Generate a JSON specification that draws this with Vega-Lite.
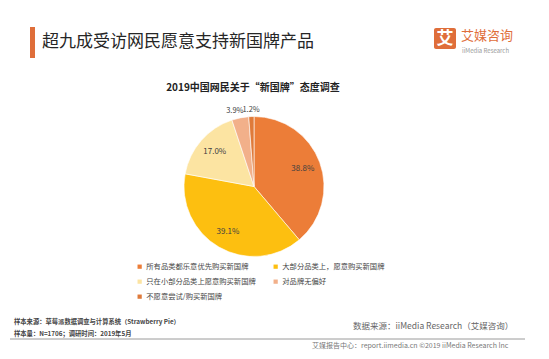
{
  "$schema": "https://vega.github.io/schema/vega-lite/v6.json",
  "autosize": {"type": "none"},
  "width": 508,
  "height": 345,
  "padding": {"left": 0, "top": 14, "right": 41, "bottom": 0},
  "background": "white",
  "config": {
    "view": {"stroke": null},
    "font": "Noto Sans CJK SC",
    "text": {"font": "Noto Sans CJK SC"}
  },
  "layer": [
    {
      "data": {"values": [
        {"order": 1, "category": "所有品类都乐意优先购买新国牌", "share": 0.388},
        {"order": 2, "category": "大部分品类上，愿意购买新国牌", "share": 0.391},
        {"order": 3, "category": "只在小部分品类上愿意购买新国牌", "share": 0.170},
        {"order": 4, "category": "对品牌无偏好", "share": 0.039},
        {"order": 5, "category": "不愿意尝试/购买新国牌", "share": 0.012}
      ]},
      "layer": [
        {
          "mark": {"type": "arc", "outerRadius": 70, "stroke": "white", "strokeWidth": 0.6},
          "encoding": {
            "theta": {"field": "share", "type": "quantitative", "stack": true},
            "order": {"field": "order", "type": "quantitative"},
            "color": {
              "field": "category",
              "type": "nominal",
              "scale": {
                "domain": ["所有品类都乐意优先购买新国牌", "只在小部分品类上愿意购买新国牌", "不愿意尝试/购买新国牌", "大部分品类上，愿意购买新国牌", "对品牌无偏好"],
                "range": ["#EC7D38", "#FCE4A2", "#DF7A3A", "#FDBF10", "#F2B08A"]
              },
              "legend": {
                "title": null,
                "orient": "none",
                "legendX": 136,
                "legendY": 249,
                "columns": 2,
                "columnPadding": 16,
                "rowPadding": 7,
                "symbolType": "square",
                "symbolSize": 18,
                "symbolStrokeWidth": 0,
                "labelFontSize": 7.3,
                "labelColor": "#444444",
                "labelOffset": 3,
                "labelFont": "Noto Sans CJK SC",
                "labelLimit": 200
              }
            }
          }
        },
        {
          "mark": {"type": "text", "radius": 52, "fontSize": 8, "color": "#404040"},
          "encoding": {
            "theta": {"field": "share", "type": "quantitative", "stack": true},
            "order": {"field": "order", "type": "quantitative"},
            "text": {"field": "share", "type": "quantitative", "format": ".1%"},
            "opacity": {"condition": {"test": "datum.share >= 0.1", "value": 1}, "value": 0}
          }
        },
        {
          "mark": {"type": "text", "radius": 77, "fontSize": 7.5, "color": "#404040", "dx": -4},
          "encoding": {
            "theta": {"field": "share", "type": "quantitative", "stack": true},
            "order": {"field": "order", "type": "quantitative"},
            "text": {"field": "share", "type": "quantitative", "format": ".1%"},
            "opacity": {"condition": {"test": "datum.order == 4", "value": 1}, "value": 0}
          }
        },
        {
          "mark": {"type": "text", "radius": 77, "fontSize": 7.5, "color": "#404040", "dx": 0},
          "encoding": {
            "theta": {"field": "share", "type": "quantitative", "stack": true},
            "order": {"field": "order", "type": "quantitative"},
            "text": {"field": "share", "type": "quantitative", "format": ".1%"},
            "opacity": {"condition": {"test": "datum.order == 5", "value": 1}, "value": 0}
          }
        }
      ]
    },
    {
      "data": {"values": [{}]},
      "layer": [
        {
          "mark": {"type": "rect", "color": "#DF6E3A"},
          "encoding": {"x": {"value": 30}, "x2": {"value": 35}, "y": {"value": 13}, "y2": {"value": 44}}
        },
        {
          "mark": {"type": "text", "align": "left", "baseline": "middle", "fontSize": 17, "color": "#262626"},
          "encoding": {"x": {"value": 42}, "y": {"value": 28}, "text": {"value": "超九成受访网民愿意支持新国牌产品"}}
        },
        {
          "mark": {"type": "rect", "color": "#DF6E3A", "cornerRadius": 2},
          "encoding": {"x": {"value": 434}, "x2": {"value": 456}, "y": {"value": 14}, "y2": {"value": 35}}
        },
        {
          "mark": {"type": "text", "align": "center", "baseline": "middle", "fontSize": 17, "fontWeight": "bold", "color": "white"},
          "encoding": {"x": {"value": 445}, "y": {"value": 24.5}, "text": {"value": "艾"}}
        },
        {
          "mark": {"type": "text", "align": "left", "baseline": "middle", "fontSize": 13, "color": "#DF6E3A"},
          "encoding": {"x": {"value": 461}, "y": {"value": 22}, "text": {"value": "艾媒咨询"}}
        },
        {
          "mark": {"type": "text", "align": "left", "baseline": "middle", "fontSize": 6, "color": "#999999"},
          "encoding": {"x": {"value": 462}, "y": {"value": 37}, "text": {"value": "iiMedia Research"}}
        },
        {
          "mark": {"type": "text", "align": "center", "baseline": "middle", "fontSize": 10, "fontWeight": "bold", "color": "#222222"},
          "encoding": {"x": {"value": 253}, "y": {"value": 74}, "text": {"value": "2019中国网民关于“新国牌”态度调查"}}
        },
        {
          "mark": {"type": "text", "align": "left", "baseline": "middle", "fontSize": 6.3, "fontWeight": "bold", "color": "#444444"},
          "encoding": {"x": {"value": 14}, "y": {"value": 308}, "text": {"value": "样本来源：草莓派数据调查与计算系统（Strawberry Pie）"}}
        },
        {
          "mark": {"type": "text", "align": "left", "baseline": "middle", "fontSize": 6.3, "fontWeight": "bold", "color": "#444444"},
          "encoding": {"x": {"value": 14}, "y": {"value": 320}, "text": {"value": "样本量：N=1706；调研时间：2019年5月"}}
        },
        {
          "mark": {"type": "text", "align": "left", "baseline": "middle", "fontSize": 8.5, "color": "#666666"},
          "encoding": {"x": {"value": 353}, "y": {"value": 312}, "text": {"value": "数据来源：iiMedia Research（艾媒咨询）"}}
        },
        {
          "mark": {"type": "rule", "color": "#9A9A9A", "strokeWidth": 1},
          "encoding": {"x": {"value": 10}, "x2": {"value": 525}, "y": {"value": 325}}
        },
        {
          "mark": {"type": "text", "align": "left", "baseline": "middle", "fontSize": 7, "color": "#777777"},
          "encoding": {"x": {"value": 312}, "y": {"value": 331.5}, "text": {"value": "艾媒报告中心：report.iimedia.cn   ©2019   iiMedia Research Inc"}}
        }
      ]
    }
  ]
}
